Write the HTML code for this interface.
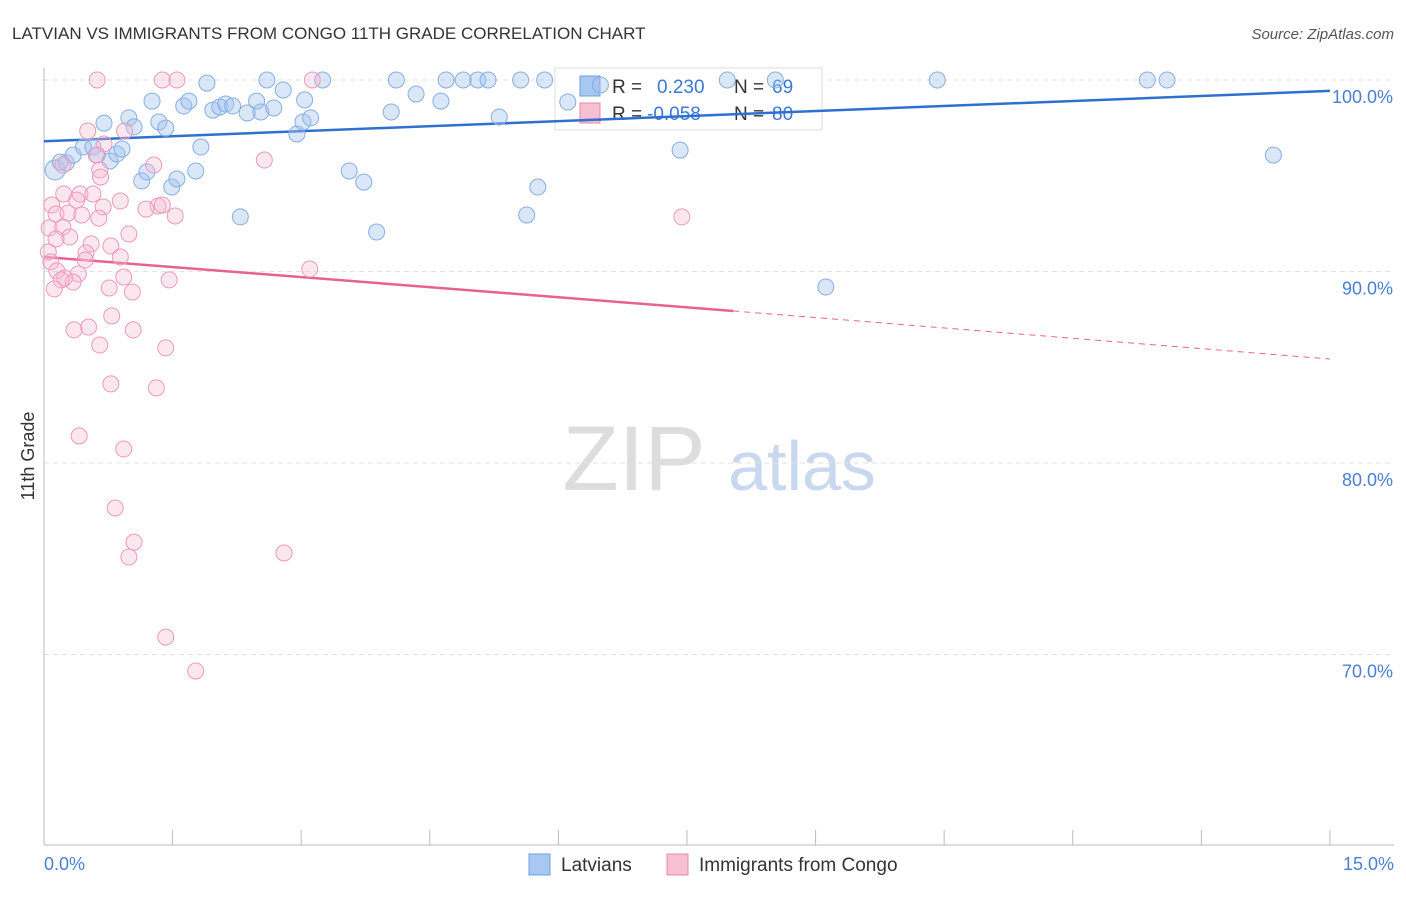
<!DOCTYPE html>
<html><head><meta charset="utf-8"><style>
body{margin:0;background:#fff;font-family:"Liberation Sans",sans-serif;}
svg text{font-family:"Liberation Sans",sans-serif;}
</style></head><body>
<svg id="chart" width="1406" height="892" xmlns="http://www.w3.org/2000/svg">
<text x="12" y="39" font-size="17" fill="#333">LATVIAN VS IMMIGRANTS FROM CONGO 11TH GRADE CORRELATION CHART</text>
<text x="1394" y="39" font-size="15" fill="#555" text-anchor="end" font-style="italic">Source: ZipAtlas.com</text>
<g>
<text x="634" y="490" font-size="92" fill="#ddd" font-family="Liberation Serif" text-anchor="middle">ZIP</text>
<text x="802" y="490" font-size="70" fill="#c8d8ee" text-anchor="middle">atlas</text>
</g>
<g id="grid"></g><g id="axes"></g>
<g>
<rect x="555" y="68" width="267" height="62" fill="#fff" stroke="#ddd"/>
<rect x="580" y="76" width="20" height="20" fill="#a8c8f0" stroke="#6e9fe0"/>
<rect x="580" y="103" width="20" height="20" fill="#f6bfd2" stroke="#e88aaa"/>
<text x="612" y="93" font-size="19" fill="#333">R =</text><text x="657" y="93" font-size="19" fill="#3a78d8">0.230</text>
<text x="734" y="93" font-size="19" fill="#333">N =</text><text x="772" y="93" font-size="19" fill="#3a78d8">69</text>
<text x="612" y="120" font-size="19" fill="#333">R =</text><text x="647" y="120" font-size="19" fill="#3a78d8">-0.058</text>
<text x="734" y="120" font-size="19" fill="#333">N =</text><text x="772" y="120" font-size="19" fill="#3a78d8">80</text>
</g>
<g id="trends"></g><g id="points"></g>
<text transform="translate(34,456) rotate(-90)" font-size="18" fill="#333" text-anchor="middle">11th Grade</text>
<g>
<rect x="529" y="854" width="21" height="21" fill="#a8c8f0" stroke="#6e9fe0"/>
<text x="561" y="871" font-size="19" fill="#333">Latvians</text>
<rect x="667" y="854" width="21" height="21" fill="#f6bfd2" stroke="#e88aaa"/>
<text x="699" y="871" font-size="19" fill="#333">Immigrants from Congo</text>
</g>
</svg>
<script>
const blueX=[0.13,0.26,0.19,0.34,0.46,0.57,0.62,0.70,0.77,0.85,0.91,0.99,1.05,1.14,1.20,1.26,1.34,1.42,1.49,1.55,1.63,1.69,1.77,1.83,1.90,1.97,2.05,2.12,2.20,2.29,2.37,2.48,2.53,2.60,2.68,2.79,2.95,3.02,3.04,3.11,3.25,3.56,3.73,3.88,4.05,4.11,4.34,4.63,4.69,4.89,5.06,5.18,5.31,5.56,5.63,5.76,5.84,6.11,6.49,7.42,7.97,8.53,9.12,10.42,12.87,13.10,14.34];
const blueY=[95.30,95.67,95.72,96.08,96.50,96.50,96.08,97.75,95.77,96.14,96.40,98.02,97.55,94.73,95.20,98.90,97.81,97.49,94.41,94.83,98.64,98.90,95.25,96.50,99.84,98.43,98.59,98.75,98.64,92.85,98.28,98.90,98.33,100,98.54,99.48,97.18,97.81,98.96,98.02,100,95.25,94.67,92.06,98.33,100,99.27,98.90,100,100,100,100,98.07,100,92.95,94.41,100,98.85,99.74,96.34,100,100,89.19,100,100,100,96.08];
const pinkX=[0.62,1.38,1.55,3.13,0.51,0.94,0.70,0.61,0.22,0.65,1.28,2.57,0.66,0.23,0.42,0.57,0.89,0.09,0.38,0.69,1.33,1.38,1.19,0.14,0.28,0.64,0.44,1.53,7.44,0.06,0.22,0.30,0.99,0.14,0.55,0.78,0.49,0.05,0.48,0.89,0.08,0.15,0.40,0.24,0.34,3.10,1.46,0.20,0.93,0.12,0.76,1.03,0.79,0.52,0.35,1.04,0.65,1.42,0.78,1.31,0.41,0.93,0.83,1.05,0.99,2.80,1.42,1.77];
const pinkY=[100,100,100,100,97.34,97.34,96.66,96.08,95.56,95.30,95.56,95.82,94.93,94.05,94.05,94.05,93.68,93.47,93.73,93.37,93.42,93.47,93.26,93.00,93.05,92.79,92.95,92.90,92.85,92.27,92.32,91.80,91.96,91.70,91.44,91.33,90.97,91.02,90.60,90.76,90.50,90.03,89.87,89.66,89.45,90.13,89.56,89.56,89.71,89.09,89.14,88.93,87.68,87.10,86.95,86.95,86.16,86.01,84.13,83.92,81.41,80.73,77.65,75.87,75.09,75.30,70.91,69.14];
const blueTrend=[96.8,99.43];
const pinkTrend=[90.76,87.94,85.43];
const pinkSolidEnd=8.04;
const yTicks=[100,90,80,70];
const yTickLabels=["100.0%","90.0%","80.0%","70.0%"];
const xTickCount=11;

const NS="http://www.w3.org/2000/svg";
const X=v=>44+v*85.73;
const Y=v=>80+(100-v)*19.15;
function mk(tag,attrs,parent){const e=document.createElementNS(NS,tag);for(const k in attrs)e.setAttribute(k,attrs[k]);parent.appendChild(e);return e;}
const grid=document.getElementById('grid'),axes=document.getElementById('axes'),trends=document.getElementById('trends'),pts=document.getElementById('points');
yTicks.forEach((t,i)=>{
  const l=mk('line',{x1:44,x2:1394,y1:Y(t),y2:Y(t),stroke:'#e2e2e2','stroke-dasharray':'5,4'},grid);
  
  
  const tx=mk('text',{x:1393,y:Y(t)+23,'font-size':18,fill:'#4a7fd4','text-anchor':'end'},axes);
  tx.textContent=yTickLabels[i];
  
  
});
const ya=mk('line',{x1:44,x2:44,y1:68,y2:845,stroke:'#bbb'},axes);


const xa=mk('line',{x1:44,x2:1394,y1:845,y2:845,stroke:'#bbb'},axes);


for(let i=0;i<xTickCount;i++){
  const t=mk('line',{x1:X(i*1.5),x2:X(i*1.5),y1:830,y2:845,stroke:'#bbb'},axes);
  
  
}
const xl0=mk('text',{x:44,y:870,'font-size':18,fill:'#4a7fd4'},axes);xl0.textContent='0.0%';


const xl1=mk('text',{x:1394,y:870,'font-size':18,fill:'#4a7fd4','text-anchor':'end'},axes);xl1.textContent='15.0%';



blueX.forEach((x,i)=>{
  const c=mk('circle',{cx:X(x),cy:Y(blueY[i]),r:i==0?10:8,fill:'rgba(160,196,240,0.4)',stroke:'#86aee6','stroke-width':1},pts);
  
  
});
pinkX.forEach((x,i)=>{
  const c=mk('circle',{cx:X(x),cy:Y(pinkY[i]),r:8,fill:'rgba(246,186,208,0.35)',stroke:'#ee9ab8','stroke-width':1},pts);
  
  
});
const bl=mk('line',{x1:X(0),y1:Y(blueTrend[0]),x2:X(15),y2:Y(blueTrend[1]),stroke:'#2f6fd0','stroke-width':2.5},trends);


const pl=mk('line',{x1:X(0),y1:Y(pinkTrend[0]),x2:X(pinkSolidEnd),y2:Y(pinkTrend[1]),stroke:'#e8628f','stroke-width':2.5},trends);


const pd=mk('line',{x1:X(pinkSolidEnd),y1:Y(pinkTrend[1]),x2:X(15),y2:Y(pinkTrend[2]),stroke:'#e8628f','stroke-width':1,'stroke-dasharray':'6,5'},trends);


</script>
</body></html>
